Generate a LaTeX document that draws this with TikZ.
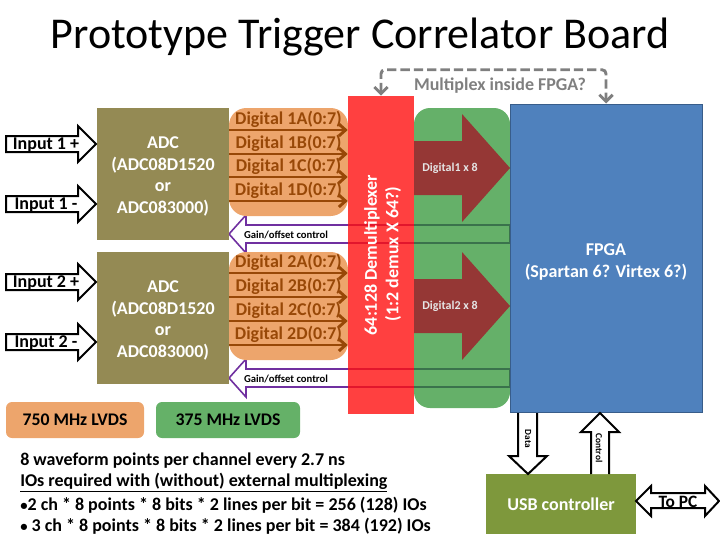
\documentclass[tikz,border=0pt]{standalone}
\usepackage{fontspec}
\setmainfont{Carlito}
\usetikzlibrary{arrows.meta}
\definecolor{adcfill}{RGB}{148,138,84}
\definecolor{lvdsorange}{RGB}{237,165,108}
\definecolor{busbrown}{RGB}{152,72,7}
\definecolor{demuxred}{RGB}{255,16,16}
\definecolor{lvdsgreen}{RGB}{36,143,41}
\definecolor{legendgreen}{RGB}{101,177,104}
\definecolor{widebrown}{RGB}{149,55,53}
\definecolor{fpgablue}{RGB}{79,129,189}
\definecolor{fpgaedge}{RGB}{56,93,138}
\definecolor{gainpurple}{RGB}{112,48,160}
\definecolor{muxgrey}{RGB}{127,127,127}
\definecolor{usbgreen}{RGB}{126,152,60}
\tikzset{
  adcbox/.style={fill=adcfill,minimum width=99pt,minimum height=99pt,inner sep=0pt},
  adctext/.style={text=white,align=center,inner sep=0pt,font=\fontsize{13.5}{16.3}\selectfont\bfseries},
  hollowarrow/.style={draw=black,fill=white,line width=1.5pt,miter limit=10},
  gainarrow/.style={draw=gainpurple,line width=1.2pt},
  busarrow/.style={draw=busbrown,line width=2.2pt,-{Straight Barb[length=5pt,width=9pt]}},
  buslabel/.style={text=busbrown,inner sep=0pt,font=\fontsize{13.5}{16}\selectfont\bfseries},
  smalllabel/.style={inner sep=0pt,font=\fontsize{8}{10}\selectfont\bfseries},
  boldlabel/.style={inner sep=0pt,font=\fontsize{13.5}{16}\selectfont\bfseries},
  notelabel/.style={anchor=west,inner sep=0pt,font=\fontsize{13.5}{16}\selectfont\bfseries},
  legendbox/.style={minimum width=108pt,minimum height=27pt,rounded corners=4.5pt,inner sep=0pt,font=\fontsize{13.3}{15}\selectfont\bfseries},
}
\begin{document}
\begin{tikzpicture}[x=0.75pt,y=0.75pt,yscale=-1,xscale=1]
        \useasboundingbox (0,0) rectangle (720,540);

        % Title
        \node (title) [inner sep=0pt,font=\fontsize{33}{38}\selectfont] at (360,37) {Prototype Trigger Correlator Board};

        %Gain/offset arrows, the boxes below are laid over them
        \foreach \y in {234,378} {
          \draw [gainarrow] (229,\y) -- (246,\y-19) -- (246,\y-9) -- (510,\y-9) -- (510,\y+9) -- (246,\y+9) -- (246,\y+19) -- cycle;
        }

        %ADC boxes
        \node (adc1) [adcbox] at (163,174) {};
        \node (adc2) [adcbox] at (163,318) {};
        \node (adc1text) [adctext] at (163,176.5) {ADC\\(ADC08D1520\\or\\ADC083000)};
        \node (adc2text) [adctext] at (163,320.5) {ADC\\(ADC08D1520\\or\\ADC083000)};

        %Orange LVDS areas
        \fill [lvdsorange,rounded corners=13pt] (229,108) rectangle (348,216);
        \fill [lvdsorange,rounded corners=13pt] (229,252) rectangle (348,360);

        %Green LVDS area and demultiplexer
        \fill [lvdsgreen,fill opacity=0.7,rounded corners=12pt] (414,108) rectangle (510,408);
        \node (demux) [fill=demuxred,fill opacity=0.8,minimum width=49.5pt,minimum height=238.5pt,inner sep=0pt] at (381,255) {};
        \node (demuxa) [rotate=90,text=white,inner sep=0pt,font=\fontsize{13.5}{16}\selectfont\bfseries] at (372,255) {64:128 Demultiplexer};
        \node (demuxb) [rotate=90,text=white,inner sep=0pt,font=\fontsize{13.5}{16}\selectfont\bfseries] at (393,254) {(1:2 demux X 64?)};

        %Wide arrows
        \foreach \y in {168,306} {
          \fill [widebrown] (414,\y-27) -- (462,\y-27) -- (462,\y-54) -- (510,\y) -- (462,\y+54) -- (462,\y+27) -- (414,\y+27) -- cycle;
        }
        \node (wide1) [smalllabel,text=white!90!black,font=\fontsize{9}{11}\selectfont\bfseries] at (450,168) {Digital1 x 8};
        \node (wide2) [smalllabel,text=white!90!black,font=\fontsize{9}{11}\selectfont\bfseries] at (450,306) {Digital2 x 8};

        %FPGA
        \node (fpga) [fill=fpgablue,draw=fpgaedge,line width=0.75pt,minimum width=144pt,minimum height=231pt,inner sep=0pt] at (606,258) {};
        \node (fpgatext) [text=white,align=center,inner sep=0pt,font=\fontsize{13.5}{16.5}\selectfont\bfseries] at (606,262) {FPGA\\(Spartan 6? Virtex 6?)};

        %Digital buses
        \foreach \n/\t/\y in {1A/Digital 1A(0:7)/130,1B/Digital 1B(0:7)/154,1C/Digital 1C(0:7)/177,1D/Digital 1D(0:7)/201,2A/Digital 2A(0:7)/273,2B/Digital 2B(0:7)/297,2C/Digital 2C(0:7)/321,2D/Digital 2D(0:7)/345} {
          \coordinate (bus\n) at (229,\y);
          \node (lab\n) [buslabel] at (288.5,\y-10.5) {\t};
          \draw [busarrow] (bus\n) -- (bus\n-|demux.west);
        }

        %Gain labels
        \node (gain1) [smalllabel] at (286,235) {Gain/offset control};
        \node (gain2) [smalllabel] at (286,379) {Gain/offset control};

        %Inputs
        \foreach \n/\t/\y in {a/Input 1 +/144,b/Input 1 -/204,c/Input 2 +/282,d/Input 2 -/342} {
          \draw [hollowarrow] (6,\y-8) -- (78,\y-8) -- (78,\y-18) -- (96,\y) -- (78,\y+18) -- (78,\y+8) -- (6,\y+8) -- cycle;
          \node (input\n) [boldlabel] at (46,\y+1.5) {\t};
        }

        %Multiplex question
        \draw [draw=muxgrey,line width=2.2pt,dash pattern=on 7pt off 3pt,rounded corners=3pt,{Straight Barb[length=5pt,width=10pt]}-{Straight Barb[length=5pt,width=10pt]}] (demux.north) -- ++(0,-26) -| (fpga.north);
        \node (muxq) [boldlabel,text=muxgrey] at (500,86) {Multiplex inside FPGA?};

        % Legend
        \node (legorange) [legendbox,fill=lvdsorange,minimum width=103.5pt] at (75,420) {\raisebox{-1.5pt}{750 MHz LVDS}};
        \node (leggreen) [legendbox,fill=legendgreen] at (228,420) {\raisebox{-1.5pt}{375 MHz LVDS}};

        % Notes
        \node (note1) [notelabel] at (20,461) {8 waveform points per channel every 2.7 ns};
        \node (note2) [notelabel] at (20,483) {\underline{IOs required with (without) external multiplexing}};
        \node (note3) [notelabel] at (20,505) {{\fontsize{11}{16}\selectfont •}2 ch * 8 points * 8 bits * 2 lines per bit = 256 (128) IOs};
        \node (note4) [notelabel] at (20,526) {{\fontsize{11}{16}\selectfont •} 3 ch * 8 points * 8 bits * 2 lines per bit = 384 (192) IOs};

        %USB controller
        \node (usb) [fill=usbgreen,text=white,minimum width=112.5pt,minimum height=45pt,inner sep=0pt,font=\fontsize{13.5}{16}\selectfont\bfseries] at (561,504) {\raisebox{-0.8pt}{USB controller}};

        %Data and control
        \draw [hollowarrow] (518,413) -- (518,456) -- (509,456) -- (528,474) -- (547,456) -- (537,456) -- (537,413);
        \node (data) [smalllabel,rotate=-90,font=\fontsize{7}{9}\selectfont\bfseries] at (528,439) {Data};
        \draw [hollowarrow] (591,474) -- (591,432) -- (581,432) -- (600,413) -- (619,432) -- (609,432) -- (609,474);
        \node (control) [smalllabel,rotate=-90,font=\fontsize{7}{9}\selectfont\bfseries] at (599,448) {Control};

        %To PC
        \draw [hollowarrow] (636,501) -- (651,486) -- (651,493) -- (705,493) -- (705,486) -- (719,501) -- (705,516) -- (705,508) -- (651,508) -- (651,516) -- cycle;
        \node (topc) [boldlabel,font=\fontsize{13}{16}\selectfont\bfseries] at (678,502) {To PC};

\end{tikzpicture}
\end{document}
